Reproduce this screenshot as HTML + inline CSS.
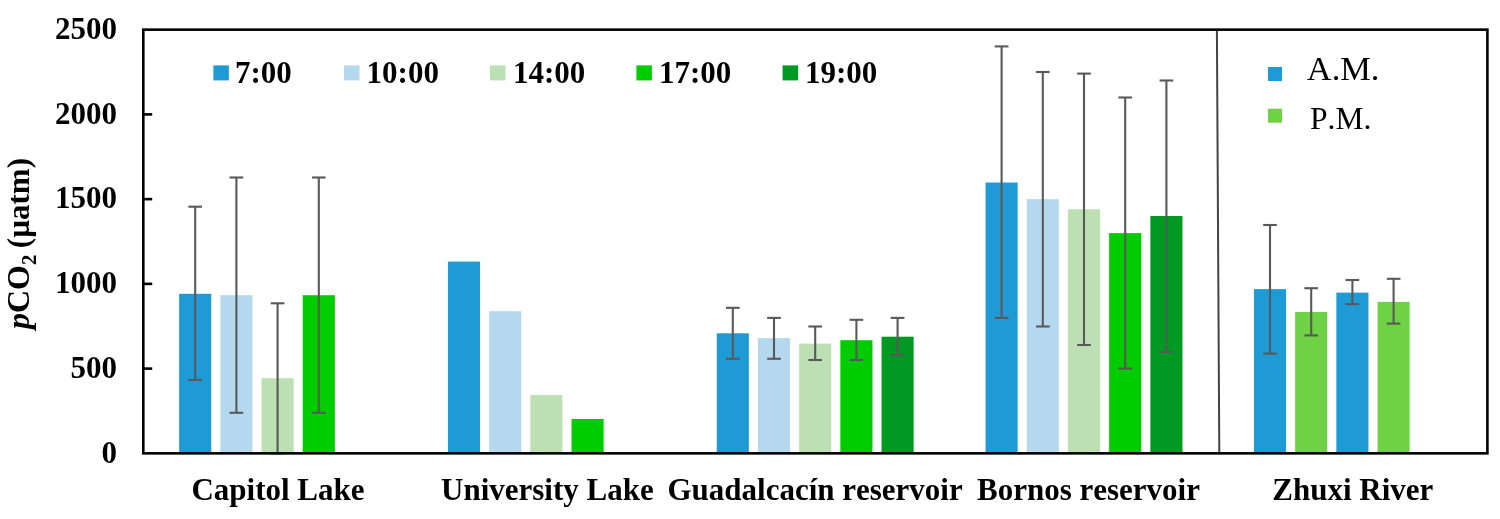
<!DOCTYPE html>
<html><head><meta charset="utf-8"><style>
html,body{margin:0;padding:0;background:#fff;}
body{width:1500px;height:519px;overflow:hidden;}
svg{display:block;will-change:transform;}
text{font-family:"Liberation Serif",serif;font-kerning:none;}
</style></head><body>
<svg width="1500" height="519" viewBox="0 0 1500 519">
<rect x="0" y="0" width="1500" height="519" fill="#fff"/>
<g>
<rect x="179.15" y="293.80" width="32.1" height="158.80" fill="#1e9bd7"/>
<rect x="220.35" y="295.20" width="32.1" height="157.40" fill="#b4d8ee"/>
<rect x="261.55" y="378.20" width="32.1" height="74.40" fill="#bce0b4"/>
<rect x="302.75" y="295.20" width="32.1" height="157.40" fill="#00cc00"/>
<rect x="447.95" y="261.60" width="32.1" height="191.00" fill="#1e9bd7"/>
<rect x="489.15" y="311.20" width="32.1" height="141.40" fill="#b4d8ee"/>
<rect x="530.35" y="395.00" width="32.1" height="57.60" fill="#bce0b4"/>
<rect x="571.55" y="419.00" width="32.1" height="33.60" fill="#00cc00"/>
<rect x="716.75" y="333.30" width="32.1" height="119.30" fill="#1e9bd7"/>
<rect x="757.95" y="338.10" width="32.1" height="114.50" fill="#b4d8ee"/>
<rect x="799.15" y="343.60" width="32.1" height="109.00" fill="#bce0b4"/>
<rect x="840.35" y="340.20" width="32.1" height="112.40" fill="#00cc00"/>
<rect x="881.55" y="336.70" width="32.1" height="115.90" fill="#009a22"/>
<rect x="985.55" y="182.50" width="32.1" height="270.10" fill="#1e9bd7"/>
<rect x="1026.75" y="199.20" width="32.1" height="253.40" fill="#b4d8ee"/>
<rect x="1067.95" y="209.30" width="32.1" height="243.30" fill="#bce0b4"/>
<rect x="1109.15" y="233.10" width="32.1" height="219.50" fill="#00cc00"/>
<rect x="1150.35" y="216.00" width="32.1" height="236.60" fill="#009a22"/>
<rect x="1253.95" y="289.10" width="32.1" height="163.50" fill="#1e9bd7"/>
<rect x="1295.15" y="311.90" width="32.1" height="140.70" fill="#6ed244"/>
<rect x="1336.35" y="292.60" width="32.1" height="160.00" fill="#1e9bd7"/>
<rect x="1377.55" y="301.90" width="32.1" height="150.70" fill="#6ed244"/>
</g>
<g stroke="#595959" stroke-width="2.1" fill="none">
<line x1="195.20" y1="206.70" x2="195.20" y2="379.90"/>
<line x1="188.35" y1="206.70" x2="202.05" y2="206.70"/>
<line x1="188.35" y1="379.90" x2="202.05" y2="379.90"/>
<line x1="236.40" y1="177.50" x2="236.40" y2="412.80"/>
<line x1="229.55" y1="177.50" x2="243.25" y2="177.50"/>
<line x1="229.55" y1="412.80" x2="243.25" y2="412.80"/>
<line x1="277.60" y1="303.30" x2="277.60" y2="453.40"/>
<line x1="270.75" y1="303.30" x2="284.45" y2="303.30"/>
<line x1="270.75" y1="453.40" x2="284.45" y2="453.40"/>
<line x1="318.80" y1="177.50" x2="318.80" y2="412.80"/>
<line x1="311.95" y1="177.50" x2="325.65" y2="177.50"/>
<line x1="311.95" y1="412.80" x2="325.65" y2="412.80"/>
<line x1="732.80" y1="307.80" x2="732.80" y2="358.80"/>
<line x1="725.95" y1="307.80" x2="739.65" y2="307.80"/>
<line x1="725.95" y1="358.80" x2="739.65" y2="358.80"/>
<line x1="774.00" y1="317.90" x2="774.00" y2="358.80"/>
<line x1="767.15" y1="317.90" x2="780.85" y2="317.90"/>
<line x1="767.15" y1="358.80" x2="780.85" y2="358.80"/>
<line x1="815.20" y1="326.50" x2="815.20" y2="360.00"/>
<line x1="808.35" y1="326.50" x2="822.05" y2="326.50"/>
<line x1="808.35" y1="360.00" x2="822.05" y2="360.00"/>
<line x1="856.40" y1="319.80" x2="856.40" y2="360.00"/>
<line x1="849.55" y1="319.80" x2="863.25" y2="319.80"/>
<line x1="849.55" y1="360.00" x2="863.25" y2="360.00"/>
<line x1="897.60" y1="317.90" x2="897.60" y2="355.30"/>
<line x1="890.75" y1="317.90" x2="904.45" y2="317.90"/>
<line x1="890.75" y1="355.30" x2="904.45" y2="355.30"/>
<line x1="1001.60" y1="46.40" x2="1001.60" y2="317.90"/>
<line x1="994.75" y1="46.40" x2="1008.45" y2="46.40"/>
<line x1="994.75" y1="317.90" x2="1008.45" y2="317.90"/>
<line x1="1042.80" y1="72.00" x2="1042.80" y2="326.50"/>
<line x1="1035.95" y1="72.00" x2="1049.65" y2="72.00"/>
<line x1="1035.95" y1="326.50" x2="1049.65" y2="326.50"/>
<line x1="1084.00" y1="73.60" x2="1084.00" y2="345.00"/>
<line x1="1077.15" y1="73.60" x2="1090.85" y2="73.60"/>
<line x1="1077.15" y1="345.00" x2="1090.85" y2="345.00"/>
<line x1="1125.20" y1="97.50" x2="1125.20" y2="368.60"/>
<line x1="1118.35" y1="97.50" x2="1132.05" y2="97.50"/>
<line x1="1118.35" y1="368.60" x2="1132.05" y2="368.60"/>
<line x1="1166.40" y1="80.50" x2="1166.40" y2="352.00"/>
<line x1="1159.55" y1="80.50" x2="1173.25" y2="80.50"/>
<line x1="1159.55" y1="352.00" x2="1173.25" y2="352.00"/>
<line x1="1270.00" y1="225.00" x2="1270.00" y2="353.60"/>
<line x1="1263.15" y1="225.00" x2="1276.85" y2="225.00"/>
<line x1="1263.15" y1="353.60" x2="1276.85" y2="353.60"/>
<line x1="1311.20" y1="288.20" x2="1311.20" y2="335.40"/>
<line x1="1304.35" y1="288.20" x2="1318.05" y2="288.20"/>
<line x1="1304.35" y1="335.40" x2="1318.05" y2="335.40"/>
<line x1="1352.40" y1="280.00" x2="1352.40" y2="304.20"/>
<line x1="1345.55" y1="280.00" x2="1359.25" y2="280.00"/>
<line x1="1345.55" y1="304.20" x2="1359.25" y2="304.20"/>
<line x1="1393.60" y1="278.80" x2="1393.60" y2="323.60"/>
<line x1="1386.75" y1="278.80" x2="1400.45" y2="278.80"/>
<line x1="1386.75" y1="323.60" x2="1400.45" y2="323.60"/>
</g>
<line x1="1216.9" y1="29.6" x2="1219.3" y2="453.3" stroke="#444" stroke-width="2.0"/>
<g stroke="#000" stroke-width="2.6" fill="none">
<rect x="143.30" y="29.65" width="1344.10" height="423.70"/>
<line x1="143.30" y1="368.61" x2="152.2" y2="368.61"/>
<line x1="143.30" y1="283.87" x2="152.2" y2="283.87"/>
<line x1="143.30" y1="199.13" x2="152.2" y2="199.13"/>
<line x1="143.30" y1="114.39" x2="152.2" y2="114.39"/>
</g>
<g font-weight="bold" font-size="31" fill="#000">
<text x="117.0" y="462.65" text-anchor="end">0</text>
<text x="117.0" y="377.91" text-anchor="end">500</text>
<text x="117.0" y="293.17" text-anchor="end">1000</text>
<text x="117.0" y="208.43" text-anchor="end">1500</text>
<text x="117.0" y="123.69" text-anchor="end">2000</text>
<text x="117.0" y="38.95" text-anchor="end">2500</text>
<rect x="213.4" y="65.4" width="15.5" height="15" fill="#1e9bd7"/>
<text x="235" y="82.6">7:00</text>
<rect x="344.0" y="65.4" width="15.5" height="15" fill="#b4d8ee"/>
<text x="366.6" y="82.6">10:00</text>
<rect x="490.0" y="65.4" width="15.5" height="15" fill="#bce0b4"/>
<text x="513" y="82.6">14:00</text>
<rect x="636.4" y="65.4" width="15.5" height="15" fill="#00cc00"/>
<text x="659" y="82.6">17:00</text>
<rect x="782.6" y="65.4" width="15.5" height="15" fill="#009a22"/>
<text x="805" y="82.6">19:00</text>
<text x="278.0" y="500" text-anchor="middle">Capitol Lake</text>
<text x="547.4" y="500" text-anchor="middle">University Lake</text>
<text x="815.1" y="500" text-anchor="middle">Guadalcacín reservoir</text>
<text x="1088.5" y="500" text-anchor="middle">Bornos reservoir</text>
<text x="1352.8" y="500" text-anchor="middle">Zhuxi River</text>
</g>
<rect x="1268" y="67" width="14" height="14" fill="#1e9bd7"/>
<rect x="1268" y="108.7" width="14" height="14" fill="#6ed244"/>
<text x="1306.8" y="80.3" font-size="34.4" fill="#000">A.M.</text>
<text x="1310" y="129" font-size="31.5" fill="#000">P.M.</text>
<g transform="translate(29,329) rotate(-90)" font-size="31" font-weight="bold" fill="#000">
<text x="0" y="0"><tspan font-style="italic" font-size="32">p</tspan><tspan font-size="32">CO</tspan><tspan font-size="21" dy="6.8">2</tspan><tspan dy="-6.8" dx="-1.4"> (µatm)</tspan></text>
</g>
</svg>
</body></html>
